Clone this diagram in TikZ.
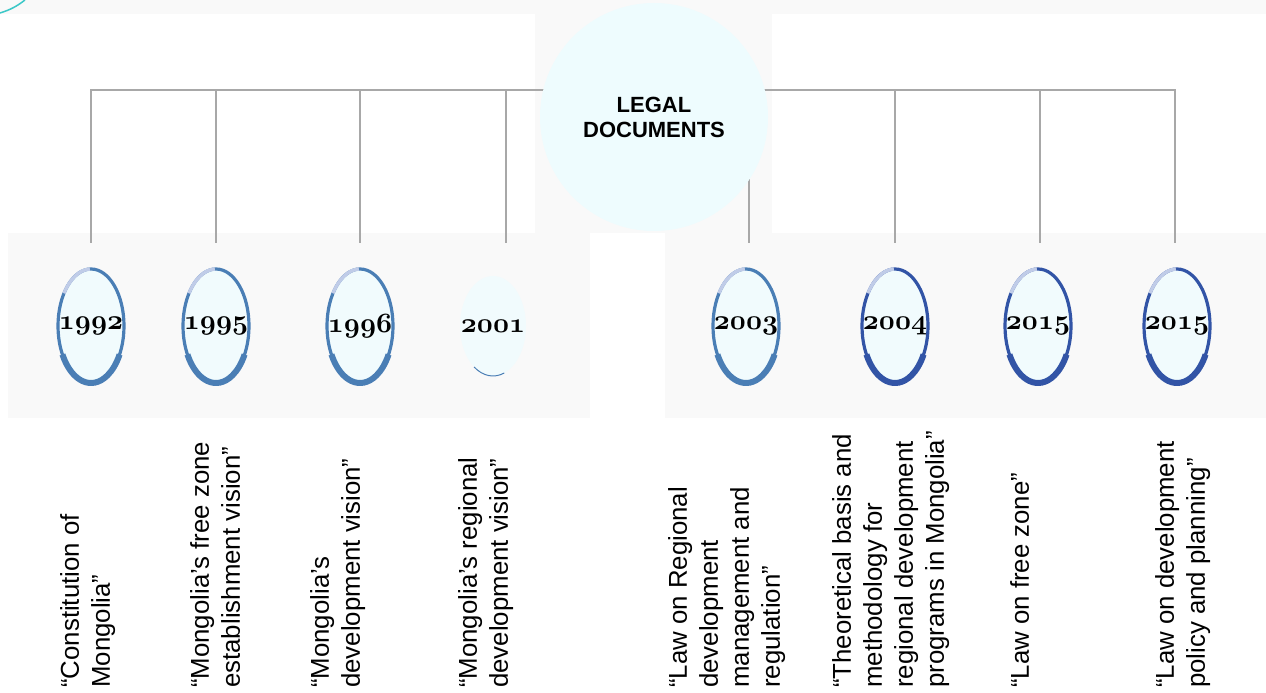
\documentclass[tikz,border=0pt]{standalone}
\usepackage{fontspec}
\newfontfamily\arial{Liberation Sans}
\usetikzlibrary{backgrounds}
\definecolor{hubfill}{RGB}{238,252,254}
\definecolor{yearfill}{RGB}{241,251,253}
\definecolor{ringL}{RGB}{74,126,181}
\definecolor{ringR}{RGB}{50,84,166}
\definecolor{ringlight}{RGB}{192,204,232}
\definecolor{linkgray}{RGB}{168,168,168}
\definecolor{panelgray}{RGB}{249,249,249}
\definecolor{cornerteal}{RGB}{60,200,200}
% old style figures from the bold math italic font, scaled up a little
\newcommand{\yearnum}[1]{\scalebox{1.12}{\usefont{OML}{cmm}{b}{it}#1}}
\tikzset{
  hub/.style   = {circle, fill=hubfill, minimum size=228pt, inner sep=0pt,
                  align=center, font=\arial\bfseries\fontsize{22}{25}\selectfont},
  link/.style  = {draw=linkgray, line width=1.2pt},
  year/.style  = {inner sep=0pt, font=\fontsize{24.88}{26}\selectfont},
  doc/.style   = {rotate=90, anchor=north west, inner sep=0pt, align=left,
                  font=\arial\fontsize{25.8}{31}\selectfont},
}

\begin{document}
\begin{tikzpicture}[x=1pt, y=1pt]
  \useasboundingbox (0,0) rectangle (1266,693);

  % hub in the middle of the top row
  \node[hub] (legal) at (654,576) {LEGAL\\DOCUMENTS};
  \path (legal.center) ++(0,27) coordinate (bar);
  \foreach \i/\xx in {1/91, 2/216, 3/360, 4/506, 5/749, 6/895, 7/1040, 8/1175}
    \coordinate (d\i) at (\xx,450);

  \begin{scope}[on background layer]
    % backdrop strips
    \fill[panelgray] (0,679) rectangle (1266,693);
    \fill[panelgray] (535,460) rectangle (772,693);
    \fill[panelgray] (8,275) rectangle (590,460);
    \fill[panelgray] (665,275) rectangle (1266,460);
    \draw[cornerteal, line width=1.5pt] (0,680) to[bend right=10] (25,693);
    % tree of links
    \foreach \i in {1,...,8}
      \draw[link] (bar) -| (d\i);
  \end{scope}

  % year rings
  \foreach \nm/\xx/\yr/\rc in {y1/91/1992/ringL, y2/216/1995/ringL, y3/360/1996/ringL,
                               y5/746/2003/ringL, y6/895/2004/ringR, y7/1038/2015/ringR,
                               y8/1177/2015/ringR} {
    \filldraw[fill=yearfill, draw=\rc, line width=3.2pt] (\xx,367) ellipse[x radius=33, y radius=57];
    \draw[\rc, line width=6pt] (\xx,367) ++(210:33 and 57)
      arc[start angle=210, end angle=330, x radius=33, y radius=57];
    \draw[ringlight, line width=3.4pt] (\xx,367) ++(92:33 and 57)
      arc[start angle=92, end angle=145, x radius=33, y radius=57];
    \node[year] (\nm) at (\xx,367) {\yearnum{\yr}};
  }
  % 2001 has no ring
  \fill[yearfill] (493,367) ellipse[x radius=33, y radius=50];
  \draw[ringL, line width=1pt] (493,367) ++(235:33 and 50)
    arc[start angle=235, end angle=290, x radius=33, y radius=50];
  \node[year] (y4) at (493,367) {\yearnum{2001}};

  % document titles
  \foreach \nm/\xx/\txt in {
      t1/60/{“Constitution of\\Mongolia”},
      t2/190/{“Mongolia’s free zone\\establishment vision”},
      t3/310/{“Mongolia’s\\development vision”},
      t4/458/{“Mongolia’s regional\\development vision”},
      t5/668/{“Law on Regional\\development\\management and\\regulation”},
      t6/832/{“Theoretical basis and\\methodology for\\regional development\\programs in Mongolia”},
      t7/1010/{“Law on free zone”},
      t8/1155/{“Law on development\\policy and planning”}}
    \node[doc] (\nm) at (\xx,5) {\txt};
\end{tikzpicture}
\end{document}
